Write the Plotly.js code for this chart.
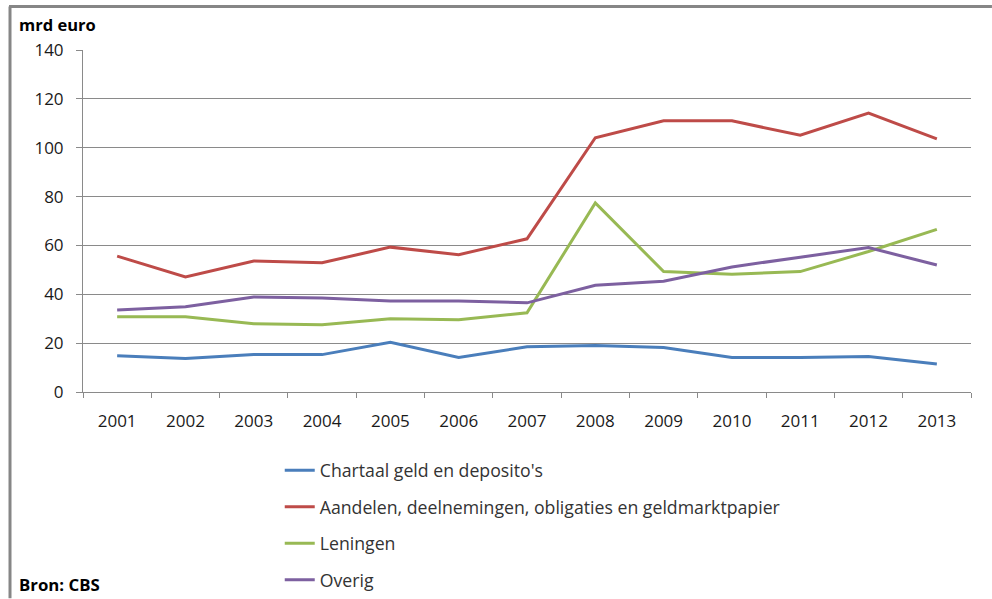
<!DOCTYPE html>
<html>
<head>
<meta charset="utf-8">
<script src="https://cdn.plot.ly/plotly-3.0.1.min.js"></script>
<style>html,body{margin:0;padding:0;background:#fff;} #chart{width:992px;height:599px;}</style>
</head>
<body>
<div id="chart"></div>
<script>
const years = ['2001','2002','2003','2004','2005','2006','2007','2008','2009','2010','2011','2012','2013'];
const chartaal = [14.8, 13.7, 15.3, 15.3, 20.4, 14.1, 18.5, 19.0, 18.2, 14.1, 14.1, 14.5, 11.5];
const aandelen = [55.6, 47.1, 53.6, 52.9, 59.3, 56.2, 62.7, 104.1, 111.0, 111.0, 105.1, 114.2, 103.6];
const leningen = [30.8, 30.8, 27.9, 27.5, 30.0, 29.6, 32.4, 77.4, 49.3, 48.2, 49.3, 57.5, 66.6];
const overig = [33.6, 34.9, 38.9, 38.5, 37.3, 37.3, 36.5, 43.7, 45.3, 51.2, 55.2, 59.1, 52.0];
const seriesNames = ["Chartaal geld en deposito's", "Aandelen, deelnemingen, obligaties en geldmarktpapier", "Leningen", "Overig"];
const seriesColors = ['#4A7EBB', '#BE4B48', '#98B954', '#7D60A0'];
const yTicks = [0, 20, 40, 60, 80, 100, 120, 140];

const allSeries = [chartaal, aandelen, leningen, overig];
const traces = allSeries.map((vals, i) => ({
  x: years, y: vals, type: 'scatter', mode: 'lines',
  name: seriesNames[i], legendgroup: 'g' + i,
  line: {color: seriesColors[i], width: 3}
}));

const FONT = '"Open Sans", sans-serif';
const layout = {
  width: 992, height: 599,
  margin: {l: 83, r: 21, t: 49.5, b: 206.7, autoexpand: false},
  paper_bgcolor: '#fff', plot_bgcolor: '#fff',
  font: {family: FONT, size: 17, color: '#1a1a1a'},
  showlegend: true,
  legend: {
    xref: 'container', yref: 'container',
    x: 0.282, y: 0.245, xanchor: 'left', yanchor: 'top',
    traceorder: 'grouped', tracegroupgap: 10.5,
    font: {family: FONT, size: 17.7, color: '#333'},
    bgcolor: 'rgba(0,0,0,0)'
  },
  xaxis: {
    type: 'category', range: [-0.5, 12.5],
    showgrid: false, showline: true, linecolor: '#8a8a8a', linewidth: 1,
    ticks: 'outside', tickson: 'boundaries', ticklen: 5, tickcolor: '#8a8a8a',
    tickangle: 0, ticklabelstandoff: 14, tickfont: {family: FONT, size: 17, color: '#1a1a1a'},
    fixedrange: true
  },
  yaxis: {
    range: [0, 140], tickvals: yTicks, ticktext: yTicks.map(String),
    showgrid: true, gridcolor: '#8a8a8a', gridwidth: 1,
    showline: true, linecolor: '#8a8a8a', linewidth: 1,
    ticks: 'outside', ticklen: 6, tickcolor: '#8a8a8a',
    ticklabelstandoff: 9, zeroline: false,
    tickfont: {family: FONT, size: 17, color: '#1a1a1a'},
    fixedrange: true
  },
  shapes: [
    {type: 'line', xref: 'paper', yref: 'paper', x0: -0.0833, x1: 1.0236, y0: 1.127, y1: 1.127, line: {color: '#868686', width: 3}},
    {type: 'line', xref: 'paper', yref: 'paper', x0: -0.0822, x1: -0.0822, y0: 1.127, y1: -0.603, line: {color: '#868686', width: 3}}
  ],
  annotations: [
    {xref: 'paper', yref: 'paper', x: -0.0745, y: 1.074, xanchor: 'left', yanchor: 'middle', text: '<b>mrd euro</b>', showarrow: false, font: {family: FONT, size: 16.5, color: '#000'}},
    {xref: 'paper', yref: 'paper', x: -0.0745, y: -0.562, xanchor: 'left', yanchor: 'middle', text: '<b>Bron: CBS</b>', showarrow: false, font: {family: FONT, size: 16.8, color: '#000'}}
  ]
};
Plotly.newPlot('chart', traces, layout, {displayModeBar: false, staticPlot: true});
</script>
</body>
</html>
